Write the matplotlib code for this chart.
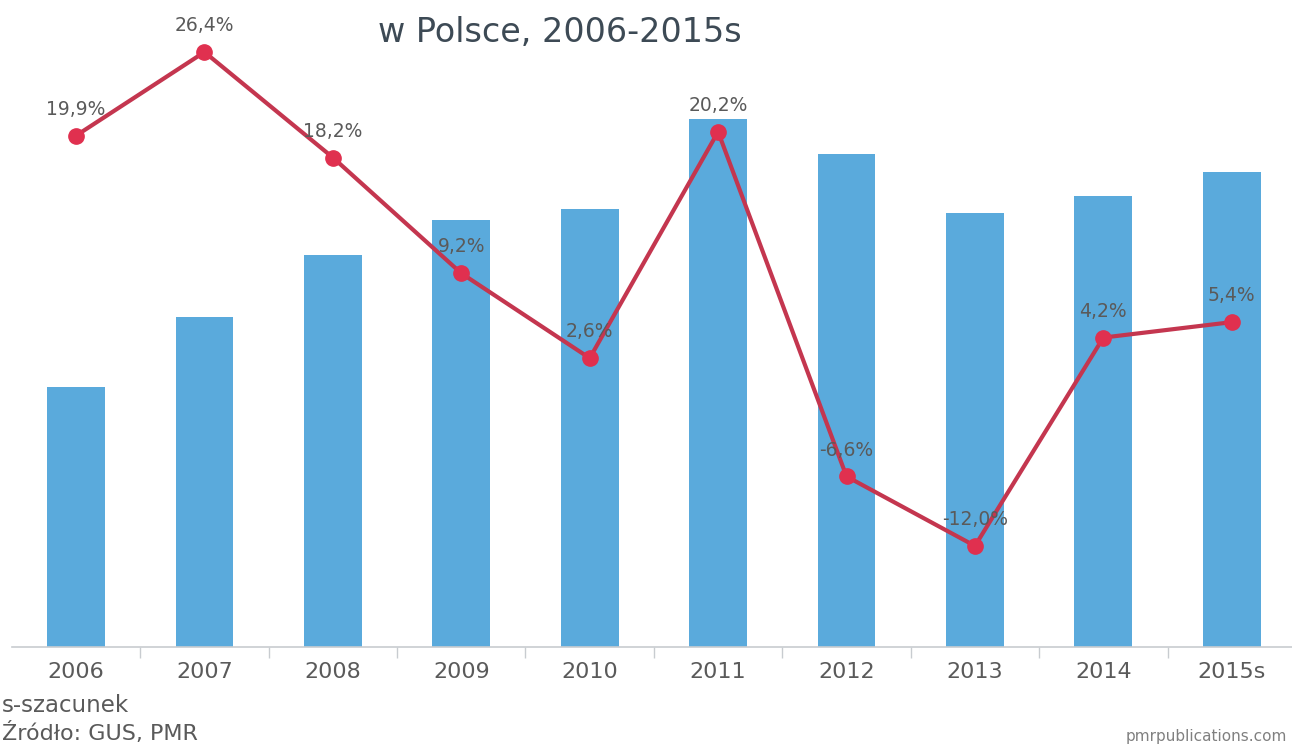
import numpy as np
import matplotlib.pyplot as plt

# values (bar heights in chart units, growth in %)
years = ["2006", "2007", "2008", "2009", "2010", "2011", "2012", "2013", "2014", "2015s"]
market_value = [260, 330, 392, 427, 438, 528, 493, 434, 451, 475]
growth = [19.9, 26.4, 18.2, 9.2, 2.6, 20.2, -6.6, -12.0, 4.2, 5.4]
growth_labels = ["19,9%", "26,4%", "18,2%", "9,2%", "2,6%", "20,2%", "-6,6%", "-12,0%", "4,2%", "5,4%"]

bar_color = "#5aaadc"
line_color = "#c4364f"
dot_color = "#e0304f"
text_color = "#5a5a5a"

fig = plt.figure(figsize=(12.92, 7.47), dpi=100)
ax = fig.add_axes([11.8 / 1292, 100 / 747, 1284.2 / 1292, 637 / 747])
x = np.arange(len(years))

ax.bar(x, market_value, width=0.45, color=bar_color, zorder=1)
ax.set_xlim(-0.5, 9.5)
ax.set_ylim(0, 637)

for s in ["top", "right", "left"]:
    ax.spines[s].set_visible(False)
ax.spines["bottom"].set_color("#c8ccd0")
ax.spines["bottom"].set_linewidth(1.2)
ax.set_yticks([])

ax.set_xticks(x, years)
ax.tick_params(axis="x", which="major", length=0, pad=11, labelsize=16, labelcolor=text_color)
ax.set_xticks(x[:-1] + 0.5, minor=True)
ax.tick_params(axis="x", which="minor", length=8, width=1, color="#c8ccd0")

# growth line on its own scale
ax2 = ax.twinx()
ax2.set_ylim(-19.86, 29.67)
ax2.axis("off")
ax2.plot(x, growth, color=line_color, linewidth=3, zorder=3)
ax2.plot(x, growth, "o", color=dot_color, markersize=11, zorder=4)
for xi, g, lab in zip(x, growth, growth_labels):
    ax2.annotate(lab, (xi, g), xytext=(0, 19), textcoords="offset points",
                 ha="center", va="center", fontsize=13.5, color=text_color,
                 annotation_clip=False, zorder=5)

fig.text(560 / 1292, 1 - 33 / 747, "w Polsce, 2006-2015s", ha="center", va="center",
         fontsize=24, color="#3d4a55")
fig.text(2 / 1292, 1 - 705 / 747, "s-szacunek", ha="left", va="center",
         fontsize=16.5, color=text_color)
fig.text(2 / 1292, 1 - 733 / 747, "Źródło: GUS, PMR", ha="left", va="center",
         fontsize=16, color=text_color)
fig.text(1287 / 1292, 1 - 736 / 747, "pmrpublications.com", ha="right", va="center",
         fontsize=11, color="#808080")

fig.savefig("out.png", dpi=100)
